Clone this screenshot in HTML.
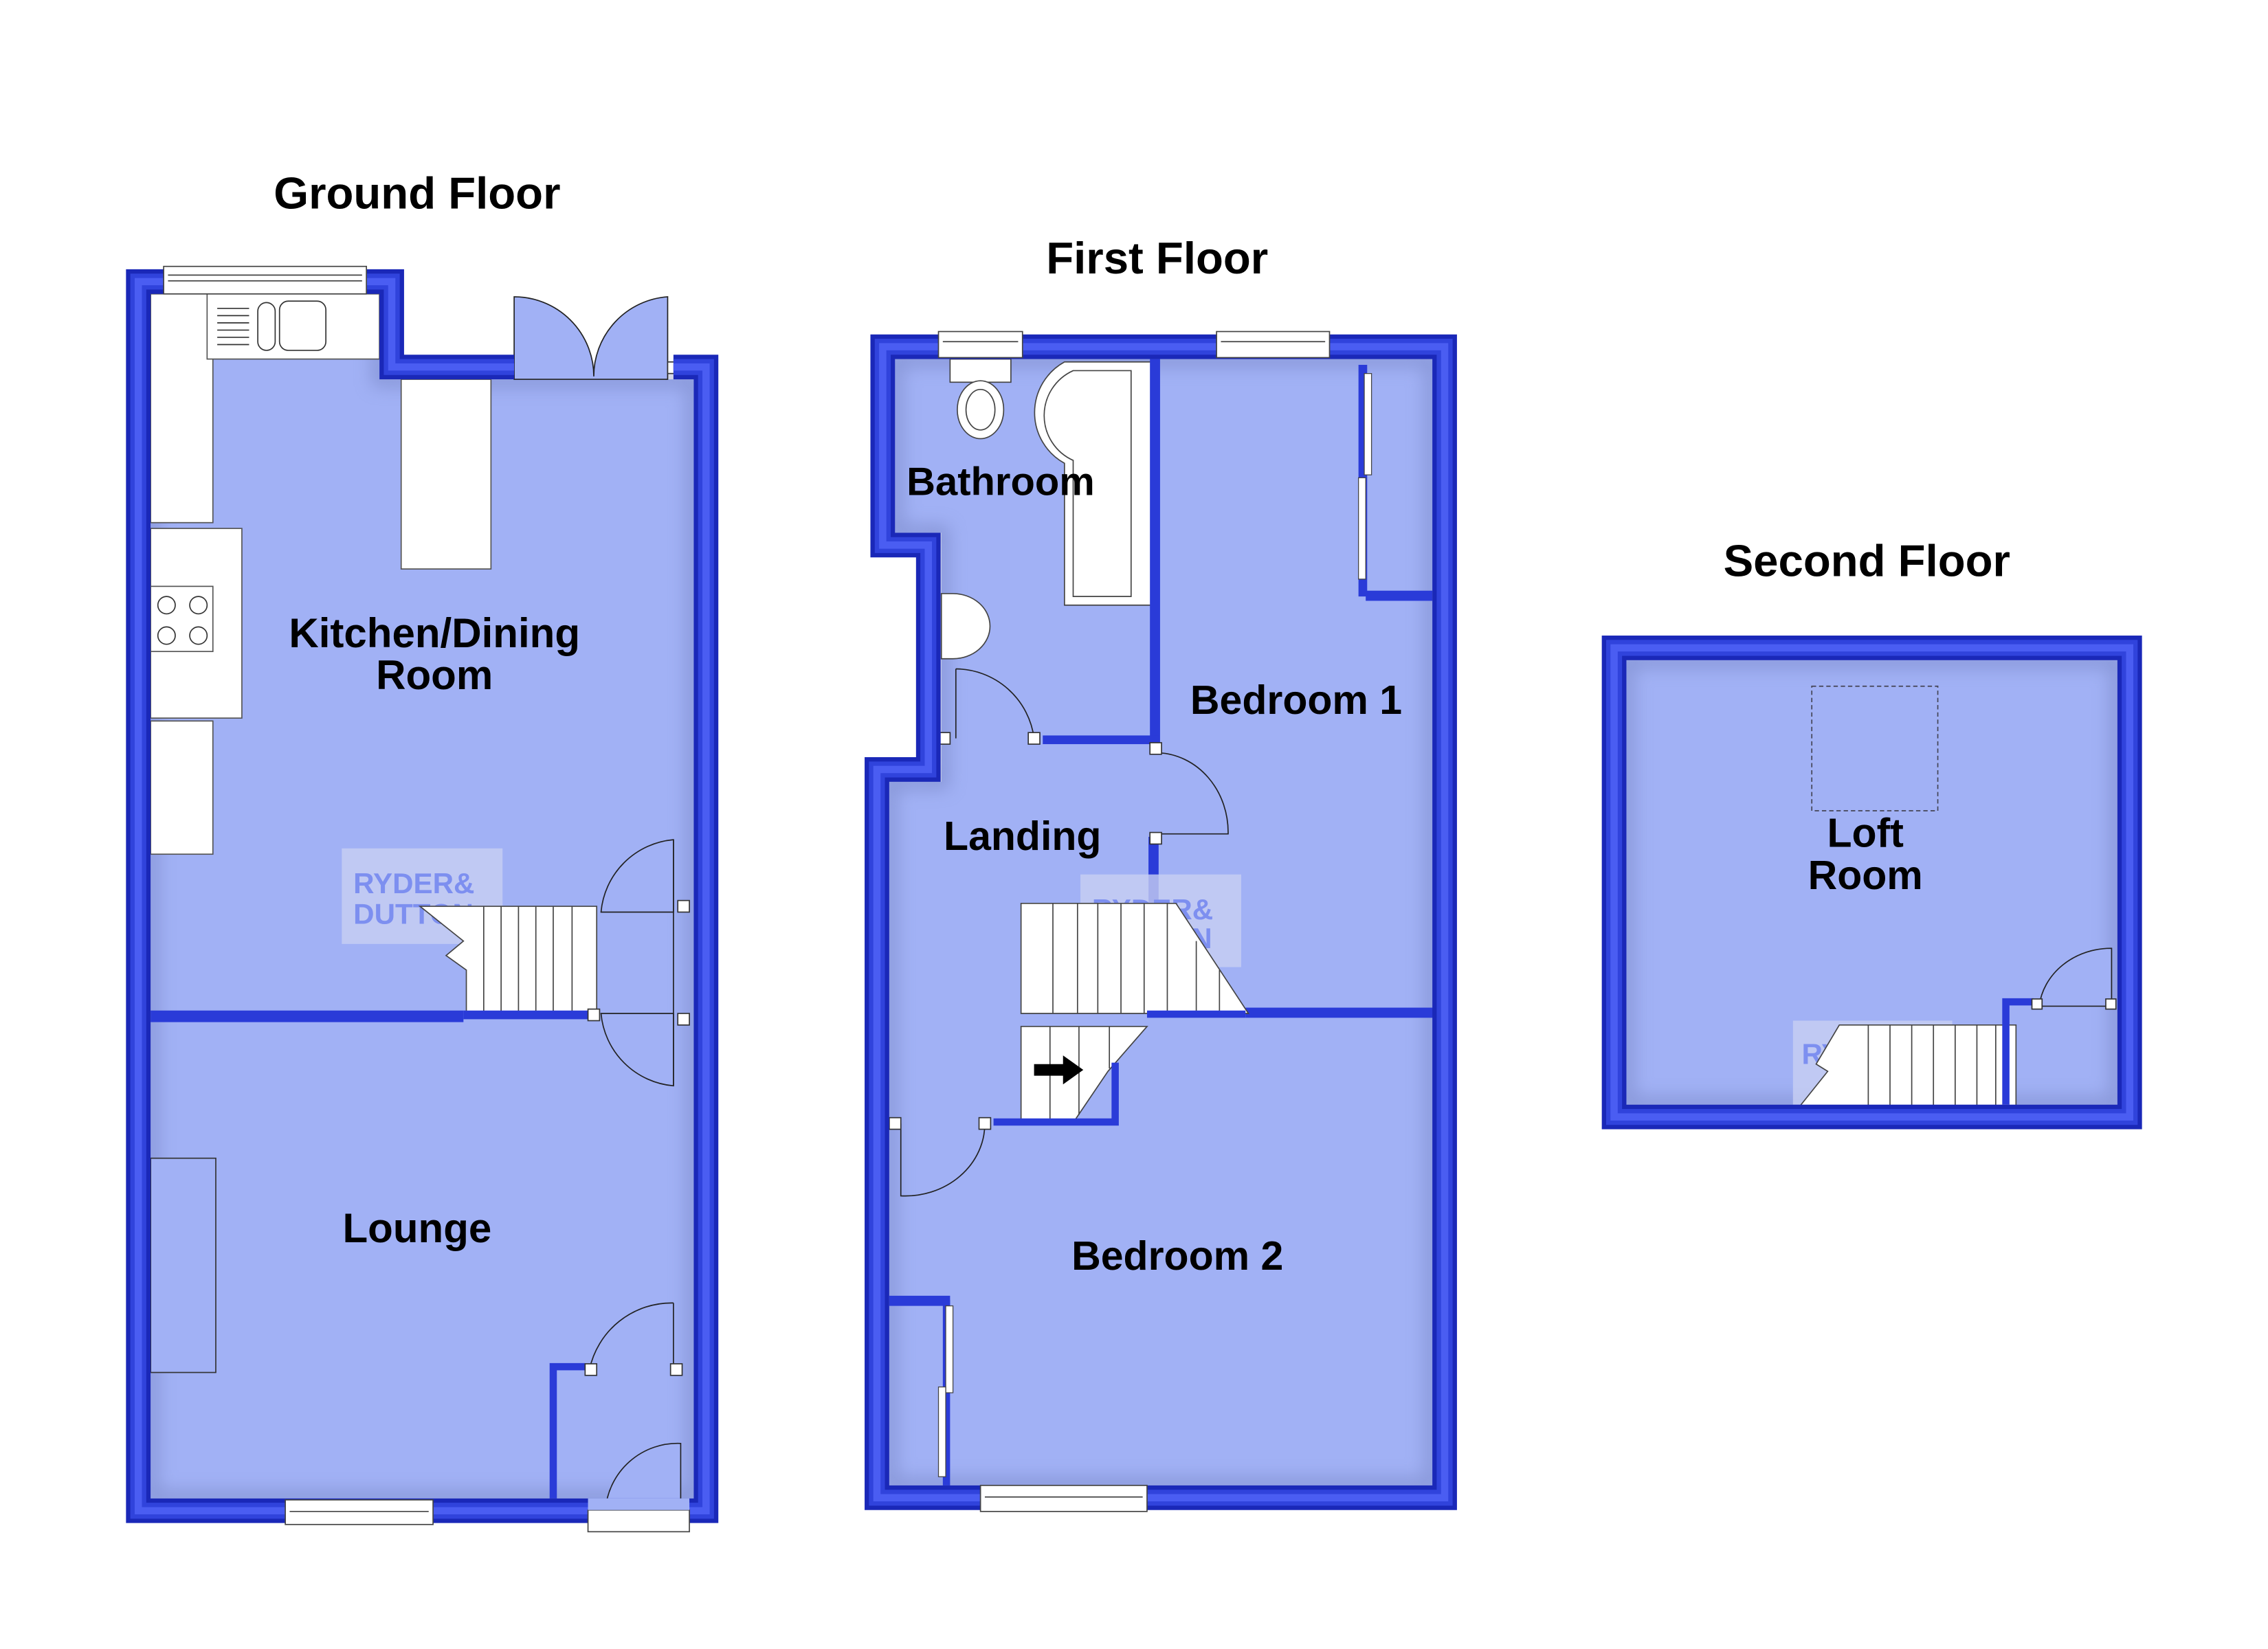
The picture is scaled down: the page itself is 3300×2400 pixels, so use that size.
<!DOCTYPE html>
<html><head><meta charset="utf-8"><style>
html,body{margin:0;padding:0;background:#fff;}
svg{display:block;}
text{font-family:"Liberation Sans",sans-serif;font-weight:bold;fill:#000;}
</style></head><body>
<svg width="3300" height="2400" viewBox="0 0 1566 1139" preserveAspectRatio="none" xmlns="http://www.w3.org/2000/svg">
<defs>
<filter id="sh" x="-5%" y="-5%" width="110%" height="110%"><feGaussianBlur stdDeviation="6"/></filter>
</defs>
<rect width="1566" height="1139" fill="#fff"/>

<!-- ===== GROUND FLOOR ===== -->
<polygon points="104,203 262,203 262,262 479,262 479,1035 104,1035" fill="#a1b1f5"/>
<polygon points="104,203 262,203 262,262 479,262 479,1035 104,1035" fill="none" stroke="#6d7ab8" stroke-width="10" opacity="0.5" filter="url(#sh)"/>
<path d="M355,262 L355,205 A55,55 0 0 1 410,260 A55,55 0 0 1 461,205 L461,262 Z" fill="#a1b1f5" stroke="#222" stroke-width="0.8"/>
<rect x="104" y="203" width="43" height="158" fill="#fff" stroke="#555" stroke-width="0.8"/>
<rect x="143" y="203" width="119" height="45" fill="#fff" stroke="#555" stroke-width="0.8"/>
<g stroke="#333" stroke-width="0.8"><line x1="150" y1="213" x2="172" y2="213"/><line x1="150" y1="218" x2="172" y2="218"/><line x1="150" y1="223" x2="172" y2="223"/><line x1="150" y1="228" x2="172" y2="228"/><line x1="150" y1="233" x2="172" y2="233"/><line x1="150" y1="238" x2="172" y2="238"/></g>
<rect x="178" y="209" width="12" height="33" rx="6" fill="#fff" stroke="#333" stroke-width="0.8"/>
<rect x="193" y="208" width="32" height="34" rx="6" fill="#fff" stroke="#333" stroke-width="0.8"/>
<rect x="104" y="365" width="63" height="131" fill="#fff" stroke="#555" stroke-width="0.8"/>
<rect x="104" y="405" width="43" height="45" fill="#fff" stroke="#555" stroke-width="0.8"/>
<circle cx="115" cy="418" r="6" fill="none" stroke="#333" stroke-width="0.8"/><circle cx="137" cy="418" r="6" fill="none" stroke="#333" stroke-width="0.8"/>
<circle cx="115" cy="439" r="6" fill="none" stroke="#333" stroke-width="0.8"/><circle cx="137" cy="439" r="6" fill="none" stroke="#333" stroke-width="0.8"/>
<rect x="104" y="498" width="43" height="92" fill="#fff" stroke="#555" stroke-width="0.8"/>
<rect x="277" y="262" width="62" height="131" fill="#fff" stroke="#555" stroke-width="0.8"/>
<rect x="104" y="800" width="45" height="148" fill="#a1b1f5" stroke="#333" stroke-width="0.8"/>
<rect x="236" y="586" width="111" height="66" fill="#c8d0f2" opacity="0.8"/>
<text x="244" y="617" font-size="20" style="fill:#7d8ff0">RYDER&amp;</text>
<text x="244" y="638" font-size="20" style="fill:#7d8ff0">DUTTON</text>
<polygon points="290,626 412,626 412,700 322,700 322,670 308,660 320,650" fill="#fff" stroke="#444" stroke-width="0.8"/>
<g stroke="#444" stroke-width="0.8"><line x1="334" y1="626" x2="334" y2="700"/><line x1="346" y1="626" x2="346" y2="700"/><line x1="358" y1="626" x2="358" y2="700"/><line x1="370" y1="626" x2="370" y2="700"/><line x1="382" y1="626" x2="382" y2="700"/><line x1="395" y1="626" x2="395" y2="700"/></g>
<rect x="104" y="698" width="216" height="8" fill="#2a3bd8"/>
<rect x="320" y="698" width="92" height="6" fill="#2a3bd8"/>
<path d="M465,580 A55,55 0 0 0 415,630 L465,630 Z" fill="#a1b1f5" stroke="#222" stroke-width="0.8"/>
<path d="M465,750 A55,55 0 0 1 415,700 L465,700 Z" fill="#a1b1f5" stroke="#222" stroke-width="0.8"/>
<line x1="465" y1="580" x2="465" y2="750" stroke="#222" stroke-width="0.8"/>
<path d="M465,900 A58,58 0 0 0 407,946" fill="none" stroke="#222" stroke-width="0.8"/>
<line x1="465" y1="900" x2="465" y2="946" stroke="#222" stroke-width="0.8"/>
<polyline points="382,1035 382,944 404,944" fill="none" stroke="#2a3bd8" stroke-width="5"/>
<path d="M470,997 A50,50 0 0 0 418,1043 L470,1043 Z" fill="#a1b1f5" stroke="#222" stroke-width="0.8"/>
<g fill="#fff" stroke="#333" stroke-width="0.8"><rect x="346" y="250" width="8" height="8"/><rect x="461" y="250" width="8" height="8"/><rect x="468" y="622" width="8" height="8"/><rect x="468" y="700" width="8" height="8"/><rect x="404" y="942" width="8" height="8"/><rect x="463" y="942" width="8" height="8"/><rect x="406" y="697" width="8" height="8"/></g>
<g fill="none" stroke-linejoin="miter">
<polyline points="355,253.5 270.5,253.5 270.5,194.5 95.5,194.5 95.5,1043.5 487.5,1043.5 487.5,253.5 465,253.5" stroke="#1a28b8" stroke-width="17"/>
<polyline points="355,253.5 270.5,253.5 270.5,194.5 95.5,194.5 95.5,1043.5 487.5,1043.5 487.5,253.5 465,253.5" stroke="#3043dc" stroke-width="11"/>
<polyline points="355,253.5 270.5,253.5 270.5,194.5 95.5,194.5 95.5,1043.5 487.5,1043.5 487.5,253.5 465,253.5" stroke="#4a5df2" stroke-width="5"/>
</g>
<rect x="113" y="184" width="140" height="19" fill="#fff" stroke="#444" stroke-width="0.8"/><line x1="116" y1="190" x2="250" y2="190" stroke="#444" stroke-width="0.8"/><line x1="116" y1="194" x2="250" y2="194" stroke="#444" stroke-width="0.8"/>
<rect x="197" y="1036" width="102" height="17" fill="#fff" stroke="#444" stroke-width="0.8"/><line x1="200" y1="1044" x2="296" y2="1044" stroke="#444" stroke-width="0.8"/>
<rect x="406" y="1043" width="70" height="15" fill="#fff" stroke="#444" stroke-width="0.8"/>
<rect x="406" y="1035" width="70" height="8" fill="#a1b1f5"/>
<text x="288" y="144" font-size="31" text-anchor="middle">Ground Floor</text>
<text x="300" y="447" font-size="28.5" text-anchor="middle">Kitchen/Dining</text>
<text x="300" y="476" font-size="28.5" text-anchor="middle">Room</text>
<text x="288" y="858" font-size="28.5" text-anchor="middle">Lounge</text>

<!-- ===== FIRST FLOOR ===== -->
<polygon points="618,248 989,248 989,1026 614,1026 614,540 650,540 650,368 618,368" fill="#a1b1f5"/>
<polygon points="618,248 989,248 989,1026 614,1026 614,540 650,540 650,368 618,368" fill="none" stroke="#6d7ab8" stroke-width="10" opacity="0.5" filter="url(#sh)"/>
<rect x="656" y="248" width="42" height="16" fill="#fff" stroke="#444" stroke-width="0.8"/>
<ellipse cx="677" cy="283" rx="16" ry="20" fill="#fff" stroke="#444" stroke-width="0.8"/>
<ellipse cx="677" cy="283" rx="10" ry="14" fill="none" stroke="#444" stroke-width="0.8"/>
<path d="M735,250 L795,250 L795,418 L735,418 L735,320 A40,40 0 0 1 735,250 Z" fill="#fff" stroke="#444" stroke-width="0.8"/>
<path d="M741,256 L781,256 L781,412 L741,412 L741,318 A34,34 0 0 1 741,256 Z" fill="none" stroke="#444" stroke-width="0.8"/>
<path d="M650,410 L658,410 A25,22 0 0 1 658,455 L650,455 Z" fill="#fff" stroke="#444" stroke-width="0.8"/>
<rect x="794" y="248" width="7" height="267" fill="#2a3bd8"/>
<rect x="720" y="508" width="80" height="6" fill="#2a3bd8"/>
<rect x="860" y="696" width="137" height="7" fill="#2a3bd8"/>
<rect x="943" y="408" width="46" height="7" fill="#2a3bd8"/>
<rect x="938" y="252" width="6" height="160" fill="#2a3bd8"/>
<rect x="942" y="258" width="5" height="70" fill="#fff" stroke="#444" stroke-width="0.6"/>
<rect x="938" y="330" width="5" height="70" fill="#fff" stroke="#444" stroke-width="0.6"/>
<rect x="793" y="578" width="7" height="48" fill="#2a3bd8"/>
<rect x="614" y="895" width="42" height="7" fill="#2a3bd8"/>
<rect x="651" y="898" width="5" height="128" fill="#2a3bd8"/>
<rect x="653" y="902" width="5" height="60" fill="#fff" stroke="#444" stroke-width="0.6"/>
<rect x="648" y="958" width="5" height="62" fill="#fff" stroke="#444" stroke-width="0.6"/>
<path d="M660,462 A55,55 0 0 1 714,510" fill="none" stroke="#222" stroke-width="0.8"/><line x1="660" y1="462" x2="660" y2="510" stroke="#222" stroke-width="0.8"/>
<path d="M800,520 A50,55 0 0 1 848,576 L800,576" fill="none" stroke="#222" stroke-width="0.8"/>
<path d="M680,776 A55,50 0 0 1 622,826 L622,776" fill="none" stroke="#222" stroke-width="0.8"/>
<g fill="#fff" stroke="#333" stroke-width="0.8"><rect x="648" y="506" width="8" height="8"/><rect x="710" y="506" width="8" height="8"/><rect x="794" y="513" width="8" height="8"/><rect x="794" y="575" width="8" height="8"/><rect x="614" y="772" width="8" height="8"/><rect x="676" y="772" width="8" height="8"/></g>
<rect x="746" y="604" width="111" height="64" fill="#c8d0f2" opacity="0.8"/>
<text x="754" y="635" font-size="20" style="fill:#7d8ff0">RYDER&amp;</text>
<text x="754" y="655" font-size="20" style="fill:#7d8ff0">DUTTON</text>
<polygon points="705,624 812,624 862,700 705,700" fill="#fff" stroke="#444" stroke-width="0.8"/>
<g stroke="#444" stroke-width="0.8"><line x1="727" y1="624" x2="727" y2="700"/><line x1="744" y1="624" x2="744" y2="700"/><line x1="758" y1="624" x2="758" y2="700"/><line x1="774" y1="624" x2="774" y2="700"/><line x1="790" y1="624" x2="790" y2="700"/><line x1="806" y1="624" x2="806" y2="700"/><line x1="826" y1="650" x2="826" y2="700"/><line x1="842" y1="670" x2="842" y2="700"/></g>
<polygon points="705,709 792,709 765,740 742,774 705,774" fill="#fff" stroke="#444" stroke-width="0.8"/>
<g stroke="#444" stroke-width="0.8"><line x1="725" y1="709" x2="725" y2="774"/><line x1="745" y1="709" x2="745" y2="770"/><line x1="766" y1="709" x2="766" y2="738"/></g>
<polyline points="770,734 770,775 686,775" fill="none" stroke="#2a3bd8" stroke-width="5"/>
<rect x="792" y="698" width="68" height="5" fill="#2a3bd8"/>
<polygon points="714,735 734,735 734,729 748,739 734,749 734,743 714,743" fill="#000"/>
<g fill="none">
<polygon points="609.5,239.5 997.5,239.5 997.5,1034.5 605.5,1034.5 605.5,531.5 641,531.5 641,376.5 609.5,376.5" stroke="#1a28b8" stroke-width="17"/>
<polygon points="609.5,239.5 997.5,239.5 997.5,1034.5 605.5,1034.5 605.5,531.5 641,531.5 641,376.5 609.5,376.5" stroke="#3043dc" stroke-width="11"/>
<polygon points="609.5,239.5 997.5,239.5 997.5,1034.5 605.5,1034.5 605.5,531.5 641,531.5 641,376.5 609.5,376.5" stroke="#4a5df2" stroke-width="5"/>
</g>
<rect x="648" y="229" width="58" height="18" fill="#fff" stroke="#444" stroke-width="0.8"/><line x1="651" y1="236" x2="703" y2="236" stroke="#444" stroke-width="0.8"/>
<rect x="840" y="229" width="78" height="18" fill="#fff" stroke="#444" stroke-width="0.8"/><line x1="843" y1="236" x2="915" y2="236" stroke="#444" stroke-width="0.8"/>
<rect x="677" y="1026" width="115" height="18" fill="#fff" stroke="#444" stroke-width="0.8"/><line x1="680" y1="1034" x2="789" y2="1034" stroke="#444" stroke-width="0.8"/>
<text x="799" y="189" font-size="31" text-anchor="middle">First Floor</text>
<text x="626" y="342" font-size="27.5">Bathroom</text>
<text x="895" y="493" font-size="28" text-anchor="middle">Bedroom 1</text>
<text x="706" y="587" font-size="28" text-anchor="middle">Landing</text>
<text x="813" y="877" font-size="28" text-anchor="middle">Bedroom 2</text>

<!-- ===== SECOND FLOOR ===== -->
<rect x="1123" y="456" width="339" height="307" fill="#a1b1f5"/>
<rect x="1123" y="456" width="339" height="307" fill="none" stroke="#6d7ab8" stroke-width="10" opacity="0.5" filter="url(#sh)"/>
<rect x="1251" y="474" width="87" height="86" fill="none" stroke="#445" stroke-width="0.8" stroke-dasharray="3,2"/>
<rect x="1238" y="705" width="110" height="60" fill="#c8d0f2" opacity="0.8"/>
<text x="1244" y="735" font-size="20" style="fill:#7d8ff0">RY</text>
<polygon points="1270,708 1392,708 1392,770 1238,770 1262,740 1254,735" fill="#fff" stroke="#444" stroke-width="0.8"/>
<g stroke="#444" stroke-width="0.8"><line x1="1290" y1="708" x2="1290" y2="770"/><line x1="1305" y1="708" x2="1305" y2="770"/><line x1="1320" y1="708" x2="1320" y2="770"/><line x1="1335" y1="708" x2="1335" y2="770"/><line x1="1350" y1="708" x2="1350" y2="770"/><line x1="1365" y1="708" x2="1365" y2="770"/><line x1="1378" y1="708" x2="1378" y2="770"/></g>
<polyline points="1385,763 1385,692 1404,692" fill="none" stroke="#2a3bd8" stroke-width="5"/>
<path d="M1458,655 A50,45 0 0 0 1408,695 L1458,695 Z" fill="#a1b1f5" stroke="#222" stroke-width="0.8"/>
<g fill="#fff" stroke="#333" stroke-width="0.8"><rect x="1403" y="690" width="7" height="7"/><rect x="1454" y="690" width="7" height="7"/></g>
<g fill="none">
<rect x="1114.5" y="447.5" width="356" height="324" stroke="#1a28b8" stroke-width="17"/>
<rect x="1114.5" y="447.5" width="356" height="324" stroke="#3043dc" stroke-width="11"/>
<rect x="1114.5" y="447.5" width="356" height="324" stroke="#4a5df2" stroke-width="5"/>
</g>
<text x="1289" y="398" font-size="31" text-anchor="middle">Second Floor</text>
<text x="1288" y="585" font-size="28" text-anchor="middle">Loft</text>
<text x="1288" y="614" font-size="28" text-anchor="middle">Room</text>
</svg>
</body></html>
